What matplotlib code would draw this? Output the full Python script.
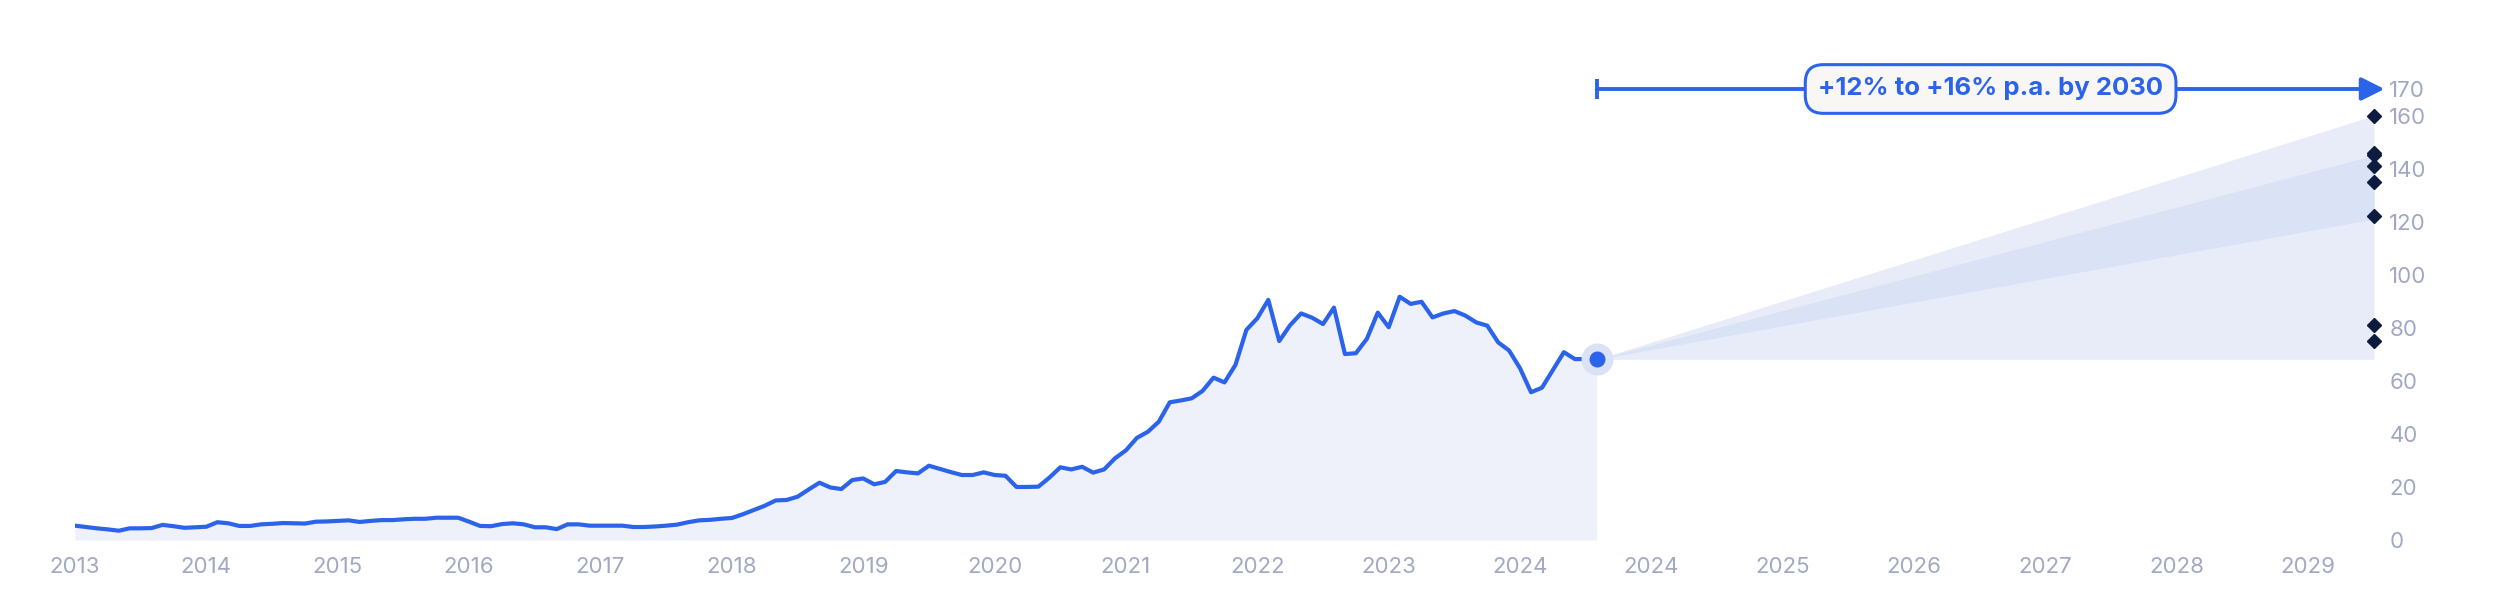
import matplotlib
matplotlib.use("Agg")
import matplotlib.pyplot as plt
import numpy as np

plt.rcParams["font.family"] = ["Inter", "DejaVu Sans"]

# monthly index values, Jan 2013 .. Aug 2024
start_year = 2013
history = [
    5.4, 4.9, 4.4, 4.0, 3.5, 4.4, 4.4, 4.5, 5.7, 5.2, 4.6, 4.8,          # 2013
    5.0, 6.7, 6.3, 5.3, 5.3, 5.9, 6.1, 6.4, 6.3, 6.2, 6.9, 7.0,          # 2014
    7.2, 7.4, 6.8, 7.2, 7.5, 7.5, 7.8, 8.0, 8.0, 8.4, 8.4, 8.4,          # 2015
    6.9, 5.3, 5.2, 6.0, 6.3, 5.9, 4.8, 4.8, 4.1, 5.9, 5.9, 5.4,          # 2016
    5.4, 5.4, 5.4, 4.9, 4.9, 5.1, 5.4, 5.8, 6.7, 7.4, 7.6, 8.0,          # 2017
    8.3, 9.7, 11.3, 12.9, 14.9, 15.1, 16.3, 19.0, 21.6, 19.8, 19.2, 22.6,  # 2018
    23.2, 21.0, 21.9, 26.0, 25.5, 25.1, 28.0, 26.8, 25.6, 24.5, 24.5, 25.5,  # 2019
    24.5, 24.2, 20.0, 20.0, 20.1, 23.5, 27.4, 26.6, 27.6, 25.4, 26.6, 30.8,  # 2020
    33.8, 38.5, 40.8, 44.6, 51.9, 52.6, 53.4, 56.2, 61.2, 59.4, 66.0, 79.2,  # 2021
    83.6, 90.5, 75.0, 81.0, 85.4, 83.8, 81.4, 87.6, 70.1, 70.4, 75.8, 85.7,  # 2022
    80.2, 91.7, 89.0, 89.8, 83.9, 85.4, 86.3, 84.6, 82.0, 80.8, 74.5, 71.4,  # 2023
    64.7, 55.7, 57.4, 64.1, 70.8, 68.2, 68.2, 68.1,                          # 2024
]

# forecast fan (values at the end of the horizon)
forecast_end = 2030.5
fan_outer_top = 160
fan_inner_top = 145
fan_inner_bottom = 121
targets = [160, 146, 145, 141, 135, 122, 81, 75]
growth_label = "+12% to +16% p.a. by 2030"
arrow_level = 170

tick_pos = list(range(2013, 2031))
tick_labels = ["2013", "2014", "2015", "2016", "2017", "2018", "2019", "2020", "2021",
               "2022", "2023", "2024", "2024", "2025", "2026", "2027", "2028", "2029"]
y_ticks = [0, 20, 40, 60, 80, 100, 120, 140, 160, 170]

BLUE = "#2b63eb"
GREY = "#a1a8c3"

x = start_year + np.arange(len(history)) / 12
y = np.array(history)
x0, y0 = x[-1], y[-1]

fig = plt.figure(figsize=(24.96, 6), dpi=100)
ax = fig.add_axes([75 / 2496, 0.1, 2299 / 2496, 451 / 600])

ax.fill_between(x, 0, y, color="#eef1fa", lw=0, zorder=1)
ax.plot(x, y, color=BLUE, lw=3, solid_joinstyle="round", zorder=3)

# forecast fan
fx = [x0, forecast_end]
ax.fill_between(fx, [y0, y0], [y0, fan_outer_top], color="#e8ecf8", lw=0, zorder=1)
ax.fill_between(fx, [y0, fan_inner_bottom], [y0, fan_inner_top], color="#dae2f6", lw=0, zorder=2)
ax.plot([forecast_end] * len(targets), targets, ls="none", marker="D", ms=7,
        color="#0d1b3e", zorder=4, clip_on=False)

# last point marker
ax.plot([x0], [y0], marker="o", ms=22, color="#dce2f6", zorder=4)
ax.plot([x0], [y0], marker="o", ms=10.5, color=BLUE, zorder=5)

# growth arrow with label
ax.annotate("", xy=(forecast_end + 0.08, arrow_level), xytext=(x0, arrow_level),
            arrowprops=dict(arrowstyle="-|>,head_length=14,head_width=7", color=BLUE,
                            lw=2.8, shrinkA=0, shrinkB=0, mutation_scale=1),
            annotation_clip=False, zorder=6)
ax.plot([x0], [arrow_level], marker="|", ms=14, mew=2.8, color=BLUE, zorder=6, clip_on=False)
ax.text((x0 + forecast_end + 0.08) / 2, arrow_level, growth_label, ha="center", va="center",
        fontsize=18.5, fontweight="bold", color=BLUE, zorder=7, clip_on=False,
        bbox=dict(boxstyle="round,pad=0.5,rounding_size=0.7", fc="#f8f7f6", ec=BLUE, lw=2.2))

ax.set_xlim(2013, forecast_end)
ax.set_ylim(0, 170)
ax.set_xticks(tick_pos)
ax.set_xticklabels(tick_labels)
ax.yaxis.tick_right()
ax.set_yticks(y_ticks)
ax.tick_params(axis="both", length=0, labelsize=16, labelcolor=GREY)
ax.tick_params(axis="x", pad=12)
ax.tick_params(axis="y", pad=11)
for s in ax.spines.values():
    s.set_visible(False)

fig.savefig("out.png", dpi=100)
